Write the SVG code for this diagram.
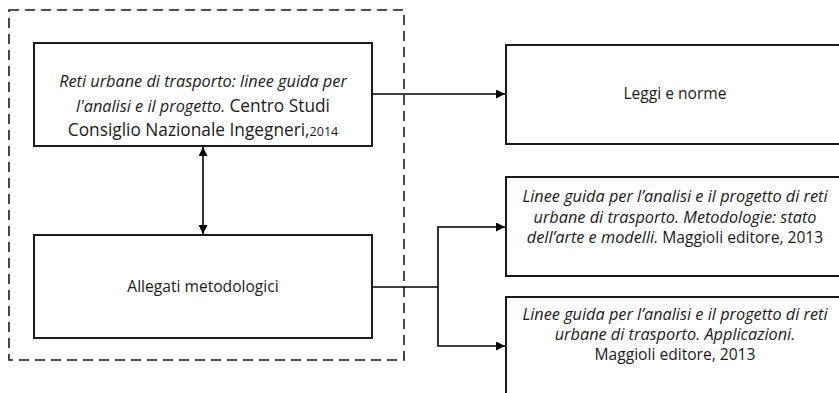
<svg xmlns="http://www.w3.org/2000/svg" width="839" height="393" viewBox="0 0 839 393">
<style>
.box{fill:#fff;stroke:#1a1a1a;stroke-width:2}
.t{font-family:"Open Sans","Liberation Sans",Arial,sans-serif;font-size:15.6px;fill:#1a1a1a;text-anchor:middle}
.i{font-style:italic;font-size:16.3px}
.big{font-size:17.3px}
.c{fill:none;stroke:#000;stroke-width:1.6}
</style>
<defs>
<marker id="ah" viewBox="0 0 10 10" refX="10" refY="5" markerWidth="9" markerHeight="9" markerUnits="userSpaceOnUse" orient="auto-start-reverse">
<path d="M0,0 L10,5 L0,10 z" fill="#000"/>
</marker>
</defs>
<rect width="839" height="393" fill="#fff"/>
<rect id="group" x="9" y="10" width="395" height="350" fill="none" stroke="#1a1a1a" stroke-width="1.6" stroke-dasharray="10,6"/>
<g id="n1">
<rect class="box" x="34" y="43" width="338" height="103"/>
<text class="t" x="203" y="87"><tspan class="i">Reti urbane di trasporto: linee guida per</tspan></text>
<text class="t" x="203" y="112"><tspan class="i">l'analisi e il progetto.</tspan> <tspan class="big">Centro Studi</tspan></text>
<text class="t" x="203" y="136"><tspan class="big">Consiglio Nazionale Ingegneri,</tspan><tspan style="font-size:12.5px">2014</tspan></text>
</g>
<g id="n2">
<rect class="box" x="34" y="235" width="338" height="103"/>
<text class="t" x="203" y="292">Allegati metodologici</text>
</g>
<g id="n3">
<rect class="box" x="506" y="45" width="339" height="99"/>
<text class="t" x="675" y="99">Leggi e norme</text>
</g>
<g id="n4">
<rect class="box" x="506" y="177" width="339" height="99"/>
<text class="t i" x="675" y="202">Linee guida per l’analisi e il progetto di reti</text>
<text class="t i" x="675" y="223">urbane di trasporto. Metodologie: stato</text>
<text class="t" x="675" y="243"><tspan class="i">dell’arte e modelli.</tspan> Maggioli editore, 2013</text>
</g>
<g id="n5">
<rect class="box" x="506" y="297" width="339" height="110"/>
<text class="t i" x="675" y="320">Linee guida per l’analisi e il progetto di reti</text>
<text class="t i" x="675" y="340">urbane di trasporto. Applicazioni.</text>
<text class="t" x="675" y="360">Maggioli editore, 2013</text>
</g>
<g id="connectors">
<line class="c" x1="203" y1="147" x2="203" y2="234" marker-start="url(#ah)" marker-end="url(#ah)"/>
<line class="c" x1="372" y1="94" x2="505" y2="94" marker-end="url(#ah)"/>
<polyline class="c" points="372,287 438,287"/>
<polyline class="c" points="505,227 438,227 438,346 505,346" marker-start="url(#ah)" marker-end="url(#ah)"/>
</g>
</svg>
